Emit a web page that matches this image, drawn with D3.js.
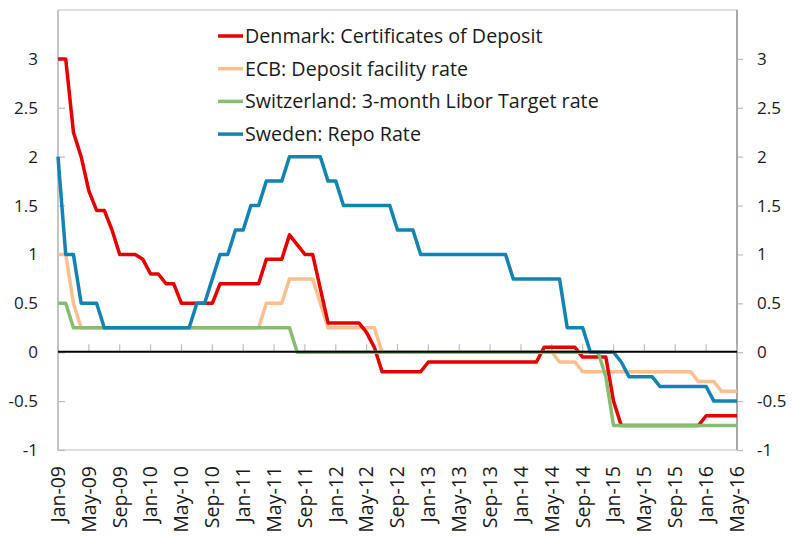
<!DOCTYPE html>
<html lang="en">
<head>
    <meta charset="UTF-8">
    <title>Policy rates</title>
    <script src="https://d3js.org/d3.v7.min.js"></script>
    <style>
        body {
            margin: 0;
            background: #fff;
        }
        svg text {
            font-family: "Segoe UI", "Open Sans", sans-serif;
            fill: #1a1a1a;
        }
        .tick-label {
            font-size: 17px;
        }
        .month-label {
            font-size: 19.5px;
        }
        .legend-label {
            font-size: 19.7px;
        }
    </style>
</head>
<body>
    <svg width="794" height="536"></svg>
    <script>
        // Month labels shown on the x axis (every 4th month, Jan-09 .. May-16)
        const tickLabels = ["Jan-09", "May-09", "Sep-09", "Jan-10", "May-10", "Sep-10",
            "Jan-11", "May-11", "Sep-11", "Jan-12", "May-12", "Sep-12",
            "Jan-13", "May-13", "Sep-13", "Jan-14", "May-14", "Sep-14",
            "Jan-15", "May-15", "Sep-15", "Jan-16", "May-16"];

        // y axis tick values
        const yTicks = [-1, -0.5, 0, 0.5, 1, 1.5, 2, 2.5, 3];

        const seriesNames = ["Denmark: Certificates of Deposit", "ECB: Deposit facility rate",
            "Switzerland: 3-month Libor Target rate", "Sweden: Repo Rate"];

        // monthly values, Jan-09 .. May-16 (89 months)
        const denmark = [
            3.0, 3.0, 2.25, 2.0, 1.65, 1.45, 1.45, 1.25, 1.0, 1.0,
            1.0, 0.95, 0.8, 0.8, 0.7, 0.7, 0.5, 0.5, 0.5, 0.5,
            0.5, 0.7, 0.7, 0.7, 0.7, 0.7, 0.7, 0.95, 0.95, 0.95,
            1.2, 1.1, 1.0, 1.0, 0.65, 0.3, 0.3, 0.3, 0.3, 0.3,
            0.2, 0.05, -0.2, -0.2, -0.2, -0.2, -0.2, -0.2, -0.1, -0.1,
            -0.1, -0.1, -0.1, -0.1, -0.1, -0.1, -0.1, -0.1, -0.1, -0.1,
            -0.1, -0.1, -0.1, 0.05, 0.05, 0.05, 0.05, 0.05, -0.05, -0.05,
            -0.05, -0.05, -0.5, -0.75, -0.75, -0.75, -0.75, -0.75, -0.75, -0.75,
            -0.75, -0.75, -0.75, -0.75, -0.65, -0.65, -0.65, -0.65, -0.65];

        const ecb = [
            1.0, 1.0, 0.5, 0.25, 0.25, 0.25, 0.25, 0.25, 0.25, 0.25,
            0.25, 0.25, 0.25, 0.25, 0.25, 0.25, 0.25, 0.25, 0.25, 0.25,
            0.25, 0.25, 0.25, 0.25, 0.25, 0.25, 0.25, 0.5, 0.5, 0.5,
            0.75, 0.75, 0.75, 0.75, 0.5, 0.25, 0.25, 0.25, 0.25, 0.25,
            0.25, 0.25, 0, 0, 0, 0, 0, 0, 0, 0,
            0, 0, 0, 0, 0, 0, 0, 0, 0, 0,
            0, 0, 0, 0, 0, -0.1, -0.1, -0.1, -0.2, -0.2,
            -0.2, -0.2, -0.2, -0.2, -0.2, -0.2, -0.2, -0.2, -0.2, -0.2,
            -0.2, -0.2, -0.2, -0.3, -0.3, -0.3, -0.4, -0.4, -0.4];

        const switzerland = [
            0.5, 0.5, 0.25, 0.25, 0.25, 0.25, 0.25, 0.25, 0.25, 0.25,
            0.25, 0.25, 0.25, 0.25, 0.25, 0.25, 0.25, 0.25, 0.25, 0.25,
            0.25, 0.25, 0.25, 0.25, 0.25, 0.25, 0.25, 0.25, 0.25, 0.25,
            0.25, 0, 0, 0, 0, 0, 0, 0, 0, 0,
            0, 0, 0, 0, 0, 0, 0, 0, 0, 0,
            0, 0, 0, 0, 0, 0, 0, 0, 0, 0,
            0, 0, 0, 0, 0, 0, 0, 0, 0, 0,
            0, -0.25, -0.75, -0.75, -0.75, -0.75, -0.75, -0.75, -0.75, -0.75,
            -0.75, -0.75, -0.75, -0.75, -0.75, -0.75, -0.75, -0.75, -0.75];

        const sweden = [
            2.0, 1.0, 1.0, 0.5, 0.5, 0.5, 0.25, 0.25, 0.25, 0.25,
            0.25, 0.25, 0.25, 0.25, 0.25, 0.25, 0.25, 0.25, 0.5, 0.5,
            0.75, 1.0, 1.0, 1.25, 1.25, 1.5, 1.5, 1.75, 1.75, 1.75,
            2.0, 2.0, 2.0, 2.0, 2.0, 1.75, 1.75, 1.5, 1.5, 1.5,
            1.5, 1.5, 1.5, 1.5, 1.25, 1.25, 1.25, 1.0, 1.0, 1.0,
            1.0, 1.0, 1.0, 1.0, 1.0, 1.0, 1.0, 1.0, 1.0, 0.75,
            0.75, 0.75, 0.75, 0.75, 0.75, 0.75, 0.25, 0.25, 0.25, 0,
            0, 0, 0, -0.1, -0.25, -0.25, -0.25, -0.25, -0.35, -0.35,
            -0.35, -0.35, -0.35, -0.35, -0.35, -0.5, -0.5, -0.5, -0.5];

        const colors = ["#e60000", "#fdbf8e", "#86bd6f", "#1283b2"];

        const plot = {left: 58, right: 737, top: 10, bottom: 450};

        const svg = d3.select("svg");

        const x = d3.scaleLinear()
                    .domain([0, denmark.length - 1])
                    .range([plot.left, plot.right]);

        const y = d3.scaleLinear()
                    .domain([-1, 3.5])
                    .range([plot.bottom, plot.top]);

        // plot frame
        svg.append("rect")
           .attr("x", plot.left)
           .attr("y", plot.top)
           .attr("width", plot.right - plot.left)
           .attr("height", plot.bottom - plot.top)
           .attr("fill", "none")
           .attr("stroke", "#d4d4d4")
           .attr("stroke-width", 1.5);

        // left axis, ticks pointing inward
        const leftAxis = svg.append("g")
           .attr("transform", `translate(${plot.left},0)`)
           .call(d3.axisLeft(y).tickValues(yTicks).tickFormat(d => String(d))
                   .tickSizeInner(-7).tickSizeOuter(0).tickPadding(20));

        // right axis, ticks pointing outward
        const rightAxis = svg.append("g")
           .attr("transform", `translate(${plot.right},0)`)
           .call(d3.axisRight(y).tickValues(yTicks).tickFormat(d => String(d))
                   .tickSizeInner(6).tickSizeOuter(0).tickPadding(14));

        [leftAxis, rightAxis].forEach(g => {
            g.select(".domain").remove();
            g.selectAll("line").attr("stroke", "#bdbdbd").attr("stroke-width", 1.2);
            g.selectAll("text").attr("class", "tick-label").attr("fill", "#1a1a1a");
        });

        svg.append("line")
           .attr("x1", plot.left).attr("x2", plot.left)
           .attr("y1", plot.top).attr("y2", plot.bottom)
           .attr("stroke", "#bdbdbd").attr("stroke-width", 1.5);
        svg.append("line")
           .attr("x1", plot.right).attr("x2", plot.right)
           .attr("y1", plot.top).attr("y2", plot.bottom)
           .attr("stroke", "#a8a8a8").attr("stroke-width", 2);

        // month ticks on the zero line
        const tickIdx = tickLabels.map((d, i) => i * 4);
        svg.selectAll(".mtick")
           .data(tickIdx)
           .enter().append("line")
           .attr("class", "mtick")
           .attr("x1", d => x(d)).attr("x2", d => x(d))
           .attr("y1", y(0)).attr("y2", y(0) - 8)
           .attr("stroke", "#bdbdbd")
           .attr("stroke-width", 1.2);

        // month labels, rotated
        svg.selectAll(".mlabel")
           .data(tickLabels)
           .enter().append("text")
           .attr("class", "month-label")
           .attr("transform", (d, i) => `translate(${x(tickIdx[i])},466) rotate(-90)`)
           .attr("dy", "0.35em")
           .style("text-anchor", "end")
           .text(d => d);

        // lines, drawn bottom to top
        const line = d3.line()
                       .x((d, i) => x(i))
                       .y(d => y(d));

        const allSeries = [denmark, ecb, switzerland, sweden];
        [1, 0, 2, 3].forEach(k => {
            svg.append("path")
               .datum(allSeries[k])
               .attr("fill", "none")
               .attr("stroke", colors[k])
               .attr("stroke-width", 3.5)
               .attr("stroke-linejoin", "round")
               .attr("d", line);
        });

        // zero line
        svg.append("line")
           .attr("x1", plot.left).attr("x2", plot.right)
           .attr("y1", y(0) - 0.5).attr("y2", y(0) - 0.5)
           .attr("stroke", "#000")
           .attr("stroke-width", 2);

        // legend
        const legend = svg.append("g").attr("transform", "translate(218,36)");
        seriesNames.forEach((name, i) => {
            const row = legend.append("g").attr("transform", `translate(0,${i * 32.7})`);
            row.append("line")
               .attr("x1", 0).attr("x2", 25)
               .attr("stroke", colors[i])
               .attr("stroke-width", 3.5);
            row.append("text")
               .attr("class", "legend-label")
               .attr("x", 27)
               .attr("dy", "0.35em")
               .text(name);
        });
    </script>
</body>
</html>
